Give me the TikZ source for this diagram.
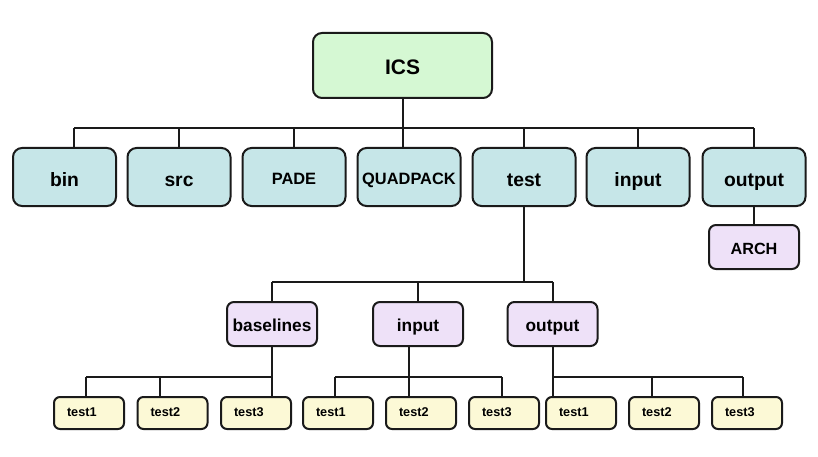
\documentclass[tikz,border=0pt]{standalone}
\usepackage{fontspec}
\setmainfont{Liberation Sans}
\definecolor{icsgreen}{HTML}{D5F8D3}
\definecolor{lvlcyan}{HTML}{C6E6E8}
\definecolor{lvlpurple}{HTML}{EEE1F8}
\definecolor{lvlyellow}{HTML}{FCF9D6}
\definecolor{edge}{HTML}{1A1A1A}
\tikzset{
  box/.style={draw=edge, line width=2pt, rounded corners=9pt, inner sep=0pt, text depth=0pt},
  topbox/.style={box, fill=icsgreen, minimum width=179pt, minimum height=65pt, text height=17.6pt, font=\bfseries\fontsize{21}{24}\selectfont},
  onebox/.style={box, fill=lvlcyan, minimum width=103pt, minimum height=58pt, text height=19.4pt, font=\bfseries\fontsize{19.3}{22}\selectfont},
  onesmall/.style={onebox, text height=14.6pt, font=\bfseries\fontsize{16.4}{19}\selectfont},
  twobox/.style={box, fill=lvlpurple, rounded corners=7pt, minimum width=90pt, minimum height=44pt, text height=15.4pt, font=\bfseries\fontsize{17.3}{20}\selectfont},
  archbox/.style={twobox, text height=14.6pt, font=\bfseries\fontsize{16.2}{19}\selectfont},
  leafbox/.style={box, fill=lvlyellow, rounded corners=6pt, text width=44pt, inner xsep=13pt, align=left, minimum height=32pt, text height=7.6pt, font=\bfseries\fontsize{12.7}{15}\selectfont},
  conn/.style={draw=edge, line width=2pt}
}
\begin{document}
\begin{tikzpicture}[x=1pt,y=-1pt]
\useasboundingbox[fill=white] (0,0) rectangle (818,457);
% nodes
\node[topbox] (ics) at (402.5,65.5) {ICS};
\node[onebox] (bin) at (64.5,177) {bin};
\node[onebox] (src) at (179,177) {src};
\node[onesmall] (pade) at (294,177) {PADE};
\node[onesmall] (quad) at (409,177) {QUADPACK};
\node[onebox] (test) at (524,177) {test};
\node[onebox] (inp) at (638,177) {input};
\node[onebox] (outp) at (754,177) {output};
\node[archbox] (arch) at (754,247) {ARCH};
\node[twobox] (base) at (272,324) {baselines};
\node[twobox] (inp2) at (418,324) {input};
\node[twobox] (out2) at (552.5,324) {output};
\node[leafbox] (t11) at (89,413) {test1};
\node[leafbox] (t12) at (172.5,413) {test2};
\node[leafbox] (t13) at (256,413) {test3};
\node[leafbox] (t21) at (338,413) {test1};
\node[leafbox] (t22) at (421,413) {test2};
\node[leafbox] (t23) at (504,413) {test3};
\node[leafbox] (t31) at (581,413) {test1};
\node[leafbox] (t32) at (664,413) {test2};
\node[leafbox] (t33) at (747,413) {test3};
% bus coordinates
\coordinate (a1) at (74,128);
\coordinate (a2) at (754,128);
\coordinate (c1) at (272,282);
\coordinate (c2) at (552.5,282);
\coordinate (d1) at (86,377);
\coordinate (d2) at (160,377);
\coordinate (d3) at (272,377);
\coordinate (e1) at (335,377);
\coordinate (e2) at (409,377);
\coordinate (e3) at (502,377);
\coordinate (f1) at (553,377);
\coordinate (f2) at (652,377);
\coordinate (f3) at (743,377);
% level 0 -> 1
\draw[conn] (ics.south) -- (ics.south |- quad.north);
\draw[conn] (a1) -- (a2);
\draw[conn] (a1) -- (a1 |- bin.north);
\draw[conn] (src.north) -- (src.north |- a1);
\draw[conn] (pade.north) -- (pade.north |- a1);
\draw[conn] (test.north) -- (test.north |- a1);
\draw[conn] (inp.north) -- (inp.north |- a1);
\draw[conn] (outp.north) -- (a2);
\draw[conn] (outp.south) -- (arch.north);
% test -> level 2
\draw[conn] (test.south) -- (test.south |- c1);
\draw[conn] (c1) -- (c2);
\draw[conn] (c1) -- (base.north);
\draw[conn] (inp2.north) -- (inp2.north |- c1);
\draw[conn] (c2) -- (out2.north);
% baselines -> leaves
\draw[conn] (base.south) -- (d3);
\draw[conn] (d1) -- (d3);
\draw[conn] (d1) -- (d1 |- t11.north);
\draw[conn] (d2) -- (d2 |- t12.north);
\draw[conn] (d3) -- (d3 |- t13.north);
% input -> leaves
\draw[conn] (e2 |- inp2.south) -- (e2 |- t22.north);
\draw[conn] (e1) -- (e3);
\draw[conn] (e1) -- (e1 |- t21.north);
\draw[conn] (e3) -- (e3 |- t23.north);
% output -> leaves
\draw[conn] (f1 |- out2.south) -- (f1 |- t31.north);
\draw[conn] (f1) -- (f3);
\draw[conn] (f2) -- (f2 |- t32.north);
\draw[conn] (f3) -- (f3 |- t33.north);
\end{tikzpicture}
\end{document}
